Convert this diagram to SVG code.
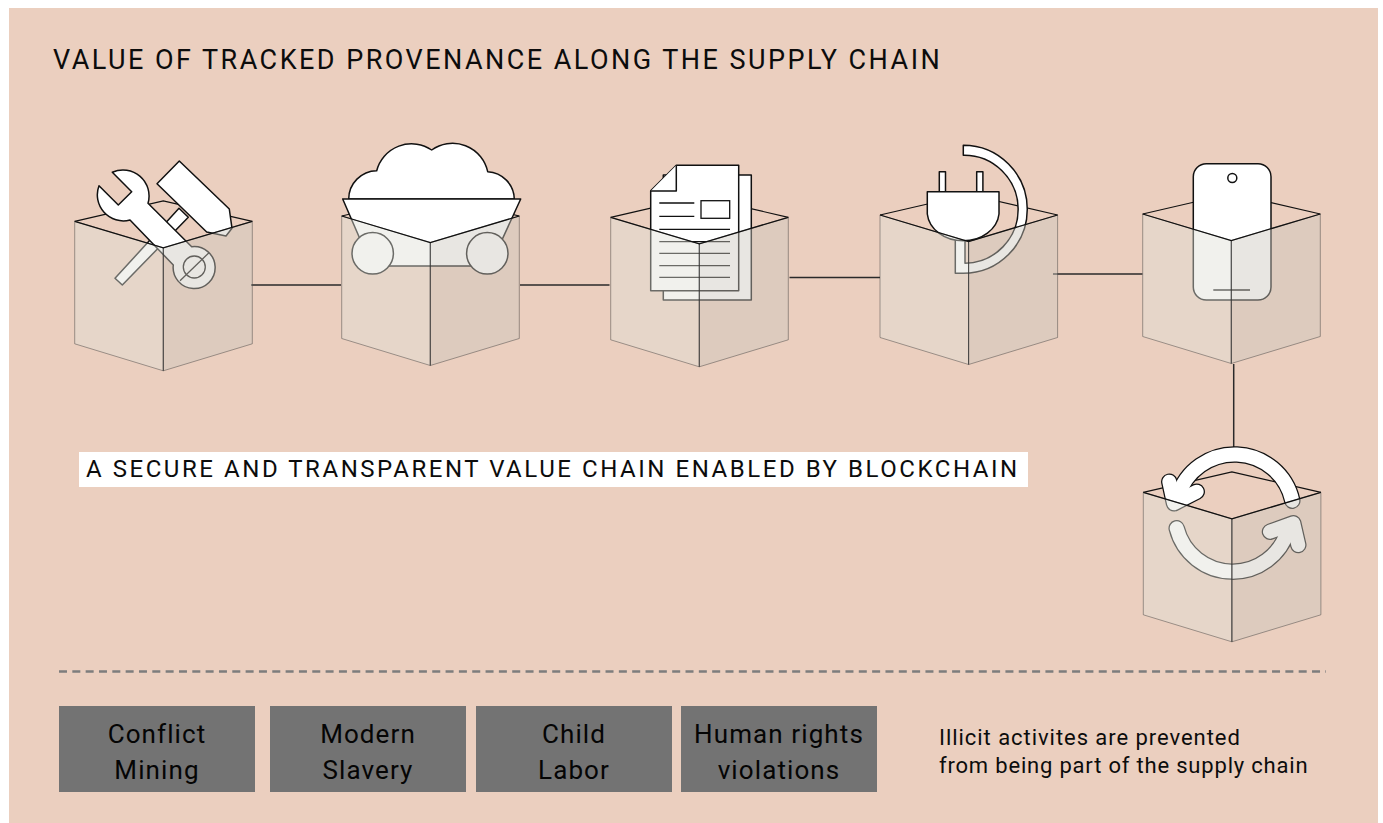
<svg xmlns="http://www.w3.org/2000/svg" width="1383" height="823" viewBox="0 0 1383 823">
<style>
.t{font-family:"Roboto","Liberation Sans",sans-serif;fill:#0c0c0c}
.h1{font-size:27px;letter-spacing:2.46px}
.h2{font-size:24px;letter-spacing:2.55px}
.c{font-size:26px;letter-spacing:1.1px;text-anchor:middle;fill:#050505}
.n{font-size:22px;letter-spacing:.95px}
.i{fill:#fff;stroke:#111;stroke-width:1.5;stroke-linejoin:round}
.il{fill:none;stroke:#111;stroke-width:1.3}
.lnk{fill:none;stroke:#2a2a2a;stroke-width:1.5}
.tg{fill:#737373}
.ab{fill:none;stroke:#111;stroke-width:16.500;stroke-linecap:round;stroke-linejoin:round}
.aw{fill:none;stroke:#fff;stroke-width:14;stroke-linecap:round;stroke-linejoin:round}
</style>
<defs>
<path id="back" d="M0,0 L88.6,-20.5 L177.6,0" fill="none" stroke="#111" stroke-width="1.2"/>
<g id="front">
<path d="M0,0 L88.6,26.5 V149.5 L0,122.5 Z" fill="#dfdfd6" fill-opacity=".44" stroke="#3a3a3a" stroke-opacity=".45" stroke-width="1"/>
<path d="M177.6,0 L88.6,26.5 V149.5 L177.6,122.5 Z" fill="#cac6bc" fill-opacity=".44" stroke="#3a3a3a" stroke-opacity=".45" stroke-width="1"/>
<path d="M88.6,26.5 V149.5" fill="none" stroke="#333" stroke-opacity=".7" stroke-width="1"/>
<path d="M0,0 L88.6,26.5 L177.6,0" fill="none" stroke="#111" stroke-width="1.3"/>
</g>
<g id="arrows">
<path d="M1292.300,500.700 A59.200,59.200 0 0 0 1178,496"/>
<path d="M1169.300,481.700 L1174,503.300 L1196.700,491.700"/>
<path d="M1176.700,528.300 A57.700,57.700 0 0 0 1288,530"/>
<path d="M1270,531.700 L1293.300,523.300 L1298.300,545"/>
</g>
</defs>
<rect width="1383" height="823" fill="#fff"/>
<rect x="9" y="8" width="1369" height="815" fill="#ebcfbf"/>
<text class="t h1" x="53" y="69.300">VALUE OF TRACKED PROVENANCE ALONG THE SUPPLY CHAIN</text>
<g id="connectors">
<path class="lnk" d="M251,285 H341"/>
<path class="lnk" d="M520,285 H609.500"/>
<path class="lnk" d="M789.500,277.500 H880"/>
<path class="lnk" d="M1053,274 H1142.500"/>
<path class="lnk" d="M1233.700,364 V447"/>
</g>
<g id="node-tools">
<use href="#back" x="74.700" y="221.300"/>
<path class="i" d="M179.300,161 L157,183.700 L206.700,232 L226,236 L232,228.300 L229.300,209 Z"/>
<path class="i" d="M179,208.300 L188.300,217.300 L122.300,285 L115,278.300 Z"/>
<path class="i" d="M112.300,172.300 L131.700,191.700 L118.300,205 L99,185.700 A26,26 0 0 0 130,220 L173.300,265 A21,21 0 1 0 191.700,246.700 L148,203.300 A26,26 0 0 0 112.300,172.300 Z"/>
<circle class="il" cx="194.300" cy="267" r="11"/>
<path class="il" d="M180,280.700 L209,252.700"/>
<use href="#front" x="74.700" y="221.300"/>
</g>
<g id="node-mine">
<use href="#back" x="341.700" y="216"/>
<path class="i" d="M348.700,199 A28.500,28.500 0 0 1 376.700,170.700 A36,36 0 0 1 431.700,150 A36,36 0 0 1 487.700,171.700 A28,28 0 0 1 514.300,199 Z"/>
<path class="i" d="M342.700,199 H520.700 L490,266 H371.700 Z"/>
<circle class="i" cx="372.700" cy="253.300" r="20.700"/>
<circle class="i" cx="487.300" cy="253.300" r="20.700"/>
<use href="#front" x="341.700" y="216"/>
</g>
<g id="node-document">
<use href="#back" x="610.700" y="217.300"/>
<rect class="i" x="663.300" y="175" width="88" height="125"/>
<path class="i" d="M676.300,165.300 H738.700 V290.700 H650.700 V190.700 Z"/>
<path class="i" d="M676.300,165.300 V191 H650.700"/>
<path class="il" d="M659.300,203 H694.300 M659.300,216.300 H694.300 M659.300,229.300 H730 M659.300,241.700 H730 M659.300,253.300 H730 M659.300,265.700 H730 M659.300,277.300 H730"/>
<rect class="il" x="701" y="200.700" width="28.700" height="17.600"/>
<use href="#front" x="610.700" y="217.300"/>
</g>
<g id="node-plug">
<use href="#back" x="880" y="215"/>
<path class="i" d="M963.300,145.300 A64,64 0 0 1 963.300,273.300 H955.300 V240 H965 V263.300 A54,54 0 0 0 963.300,155.300 Z"/>
<rect class="i" x="939.300" y="171.700" width="6.200" height="20"/>
<rect class="i" x="976.700" y="171.700" width="6.200" height="20"/>
<path class="i" d="M927.300,191.700 H999 V214 A36,29.500 0 0 1 927.300,214 Z"/>
<use href="#front" x="880" y="215"/>
</g>
<g id="node-phone">
<use href="#back" x="1142.700" y="214"/>
<rect class="i" x="1193.300" y="163.700" width="77.700" height="136.300" rx="13"/>
<circle class="i" cx="1232.300" cy="178" r="4.500"/>
<path class="il" d="M1213.300,290 H1250"/>
<use href="#front" x="1142.700" y="214"/>
</g>
<g id="node-recycle">
<use href="#back" x="1143.300" y="492.300"/>
<use href="#arrows" class="ab"/>
<use href="#arrows" class="aw"/>
<use href="#front" x="1143.300" y="492.300"/>
</g>
<rect x="79" y="452" width="949" height="35" fill="#fff"/>
<text class="t h2" x="86" y="477.300">A SECURE AND TRANSPARENT VALUE CHAIN ENABLED BY BLOCKCHAIN</text>
<path d="M59,671.500 H1326" fill="none" stroke="#7d7d7d" stroke-width="2.500" stroke-dasharray="8 5.330"/>
<g id="tag-1"><rect class="tg" x="59" y="706" width="196" height="86"/><text class="t c" x="157" y="743">Conflict</text><text class="t c" x="157" y="779">Mining</text></g>
<g id="tag-2"><rect class="tg" x="270" y="706" width="196" height="86"/><text class="t c" x="368" y="743">Modern</text><text class="t c" x="368" y="779">Slavery</text></g>
<g id="tag-3"><rect class="tg" x="476" y="706" width="196" height="86"/><text class="t c" x="574" y="743">Child</text><text class="t c" x="574" y="779">Labor</text></g>
<g id="tag-4"><rect class="tg" x="681" y="706" width="196" height="86"/><text class="t c" x="779" y="743">Human rights</text><text class="t c" x="779" y="779">violations</text></g>
<text class="t n" x="939" y="745">Illicit activites are prevented</text>
<text class="t n" x="939" y="773" style="letter-spacing:.81px">from being part of the supply chain</text>
</svg>
